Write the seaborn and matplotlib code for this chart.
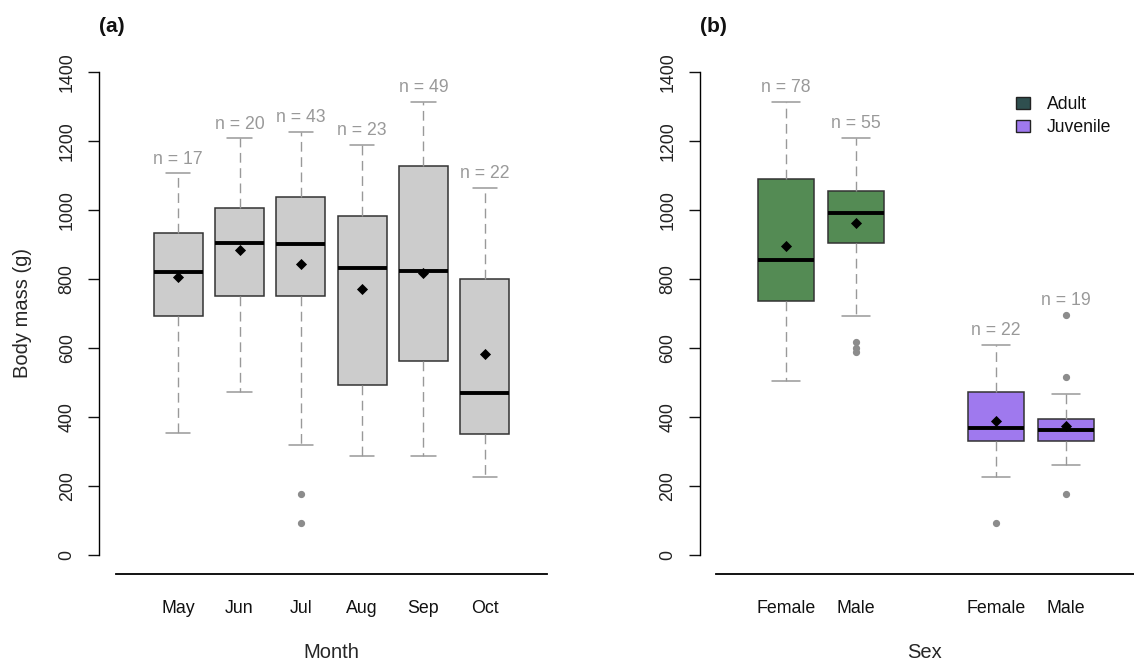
import matplotlib
matplotlib.use("Agg")
import matplotlib.pyplot as plt
import numpy as np
import pandas as pd
import seaborn as sns
from matplotlib.patches import Patch

# ---- Panel (a): body mass by month ----
months = ["May", "Jun", "Jul", "Aug", "Sep", "Oct"]
month_n = [17, 20, 43, 23, 49, 22]
month_whislo = [352, 473, 318, 287, 287, 226]
month_q1 = [693, 750, 750, 493, 561, 351]
month_med = [821, 905, 902, 831, 824, 470]
month_q3 = [933, 1007, 1037, 984, 1128, 800]
month_whishi = [1107, 1208, 1227, 1189, 1314, 1065]
month_mean = [807, 884, 845, 771, 818, 582]
month_fliers = [[], [], [176, 92], [], [], []]

# ---- Panel (b): body mass by sex and age class ----
sex_labels = ["Female", "Male", "Female", "Male"]
age_class = ["Adult", "Adult", "Juvenile", "Juvenile"]
sex_n = [78, 55, 22, 19]
sex_whislo = [504, 693, 226, 260]
sex_q1 = [736, 905, 331, 331]
sex_med = [854, 991, 369, 362]
sex_q3 = [1090, 1056, 473, 395]
sex_whishi = [1314, 1209, 609, 466]
sex_mean = [895, 962, 389, 374]
sex_fliers = [[], [618, 601, 589], [92], [696, 517, 176]]

age_colors = {"Adult": "#548B54", "Juvenile": "#9F79EE"}
legend_colors = {"Adult": "#2F4F4F", "Juvenile": "#9F79EE"}

sns.set_theme(style="white")
plt.rcParams["font.family"] = ["Liberation Sans", "DejaVu Sans"]
plt.rcParams["text.color"] = "#111111"
plt.rcParams["xtick.color"] = "#111111"
plt.rcParams["ytick.color"] = "#111111"

W, H = 1134, 662
fig = plt.figure(figsize=(W / 100, H / 100), dpi=100)

ax_bottom_px = 574.3
ax_top_px = 20.0
px_per_g = 0.34457
zero_px = 554.7
ylo = -(ax_bottom_px - zero_px) / px_per_g
yhi = ylo + (ax_bottom_px - ax_top_px) / px_per_g
label_fs = 14.5


def make_axes(left_px, right_px):
    return fig.add_axes([left_px / W, (H - ax_bottom_px) / H,
                         (right_px - left_px) / W, (ax_bottom_px - ax_top_px) / H])


def stats_list(lo, q1, med, q3, hi, fl):
    return [dict(whislo=a, q1=b, med=c, q3=d, whishi=e, fliers=np.array(f, dtype=float))
            for a, b, c, d, e, f in zip(lo, q1, med, q3, hi, fl)]


def draw_panel(ax, positions, labels, stats, facecolors, means, ns, offset_px):
    # axis frame first: moving a spine resets the tick artists
    for side in ("top", "right"):
        ax.spines[side].set_visible(False)
    ax.spines["left"].set_position(("outward", offset_px * 0.72))
    ax.spines["left"].set_bounds(0, 1400)
    ax.spines["left"].set_color("black")
    ax.spines["left"].set_linewidth(1.0)
    ax.spines["bottom"].set_color("black")
    ax.spines["bottom"].set_linewidth(1.3)

    bp = ax.bxp(stats, positions=positions, widths=0.8, capwidths=0.4,
                patch_artist=True, showfliers=True, manage_ticks=False,
                boxprops=dict(edgecolor="#333333", linewidth=1.1),
                medianprops=dict(color="black", linewidth=2.8, solid_capstyle="butt"),
                whiskerprops=dict(color="#999999", linewidth=1.0, linestyle=(0, (7, 4))),
                capprops=dict(color="#999999", linewidth=1.1),
                flierprops=dict(marker="o", markerfacecolor="#8c8c8c",
                                markeredgecolor="#8c8c8c", markersize=4.2))
    for patch, c in zip(bp["boxes"], facecolors):
        patch.set_facecolor(c)

    mean_df = pd.DataFrame({"pos": positions, "mean": means})
    sns.scatterplot(data=mean_df, x="pos", y="mean", marker="D", color="black",
                    s=32, linewidth=0, zorder=5, legend=False, ax=ax)

    for p, s, n in zip(positions, stats, ns):
        top = max([s["whishi"]] + list(s["fliers"]))
        ax.annotate(f"n = {n}", xy=(p, top), xytext=(0, 7), textcoords="offset points",
                    ha="center", va="baseline", color="#999999", fontsize=12.7)

    ax.set_ylim(ylo, yhi)
    ax.set_xticks(positions)
    ax.set_xticklabels(labels)
    ax.set_yticks(range(0, 1401, 200))
    ax.set_yticklabels([str(v) for v in range(0, 1401, 200)])
    ax.tick_params(axis="y", left=True, direction="out", length=8, width=1.0,
                   pad=9, labelsize=12.8, labelrotation=90, labelcolor="#222222")
    for lbl in ax.get_yticklabels():
        lbl.set_va("center")
    ax.tick_params(axis="x", bottom=False, length=0, pad=18.5, labelsize=12.8)
    ax.set_ylabel("")
    ax.set_xlabel("")


# Panel (a)
ax_a = make_axes(116.3, 546.7)
pos_a = list(range(len(months)))
draw_panel(ax_a, pos_a, months,
           stats_list(month_whislo, month_q1, month_med, month_q3, month_whishi, month_fliers),
           ["#CCCCCC"] * len(months), month_mean, month_n, 17.0)
ax_a.set_xlim(-1.01, 6.01)
ax_a.set_xlabel("Month", fontsize=label_fs)
ax_a.xaxis.set_label_coords(0.5, (ax_bottom_px - 653) / (ax_bottom_px - ax_top_px))
ax_a.xaxis.label.set_va("center")
ax_a.set_ylabel("Body mass (g)", fontsize=label_fs)
ax_a.yaxis.set_label_coords((23 - 116.3) / (546.7 - 116.3),
                            (ax_bottom_px - 313.5) / (ax_bottom_px - ax_top_px))
ax_a.yaxis.label.set_va("center")
ax_a.yaxis.label.set_ha("center")

# Panel (b)
ax_b = make_axes(715.7, 1134)
pos_b = [1, 2, 4, 5]
draw_panel(ax_b, pos_b, sex_labels,
           stats_list(sex_whislo, sex_q1, sex_med, sex_q3, sex_whishi, sex_fliers),
           [age_colors[a] for a in age_class], sex_mean, sex_n, 15.7)
ax_b.set_xlim(-0.005, 5.97)
ax_b.set_xlabel("Sex", fontsize=label_fs)
ax_b.xaxis.set_label_coords(0.5, (ax_bottom_px - 653) / (ax_bottom_px - ax_top_px))
ax_b.xaxis.label.set_va("center")

handles = [Patch(facecolor=legend_colors[k], edgecolor="#222222", linewidth=1.0, label=k)
           for k in ["Adult", "Juvenile"]]
ax_b.legend(handles=handles, loc="upper left", bbox_to_anchor=(1016 / W, 1 - 96 / H),
            bbox_transform=fig.transFigure, frameon=False, fontsize=12.7,
            handlelength=0.8, handleheight=0.67, handletextpad=0.95,
            labelspacing=0.35, borderpad=0, borderaxespad=0)

# Panel tags
fig.text(99 / W, 1 - 27 / H, "(a)", ha="left", va="center", fontsize=15, fontweight="bold")
fig.text(700 / W, 1 - 27 / H, "(b)", ha="left", va="center", fontsize=15, fontweight="bold")

fig.savefig("out.png", dpi=100)
